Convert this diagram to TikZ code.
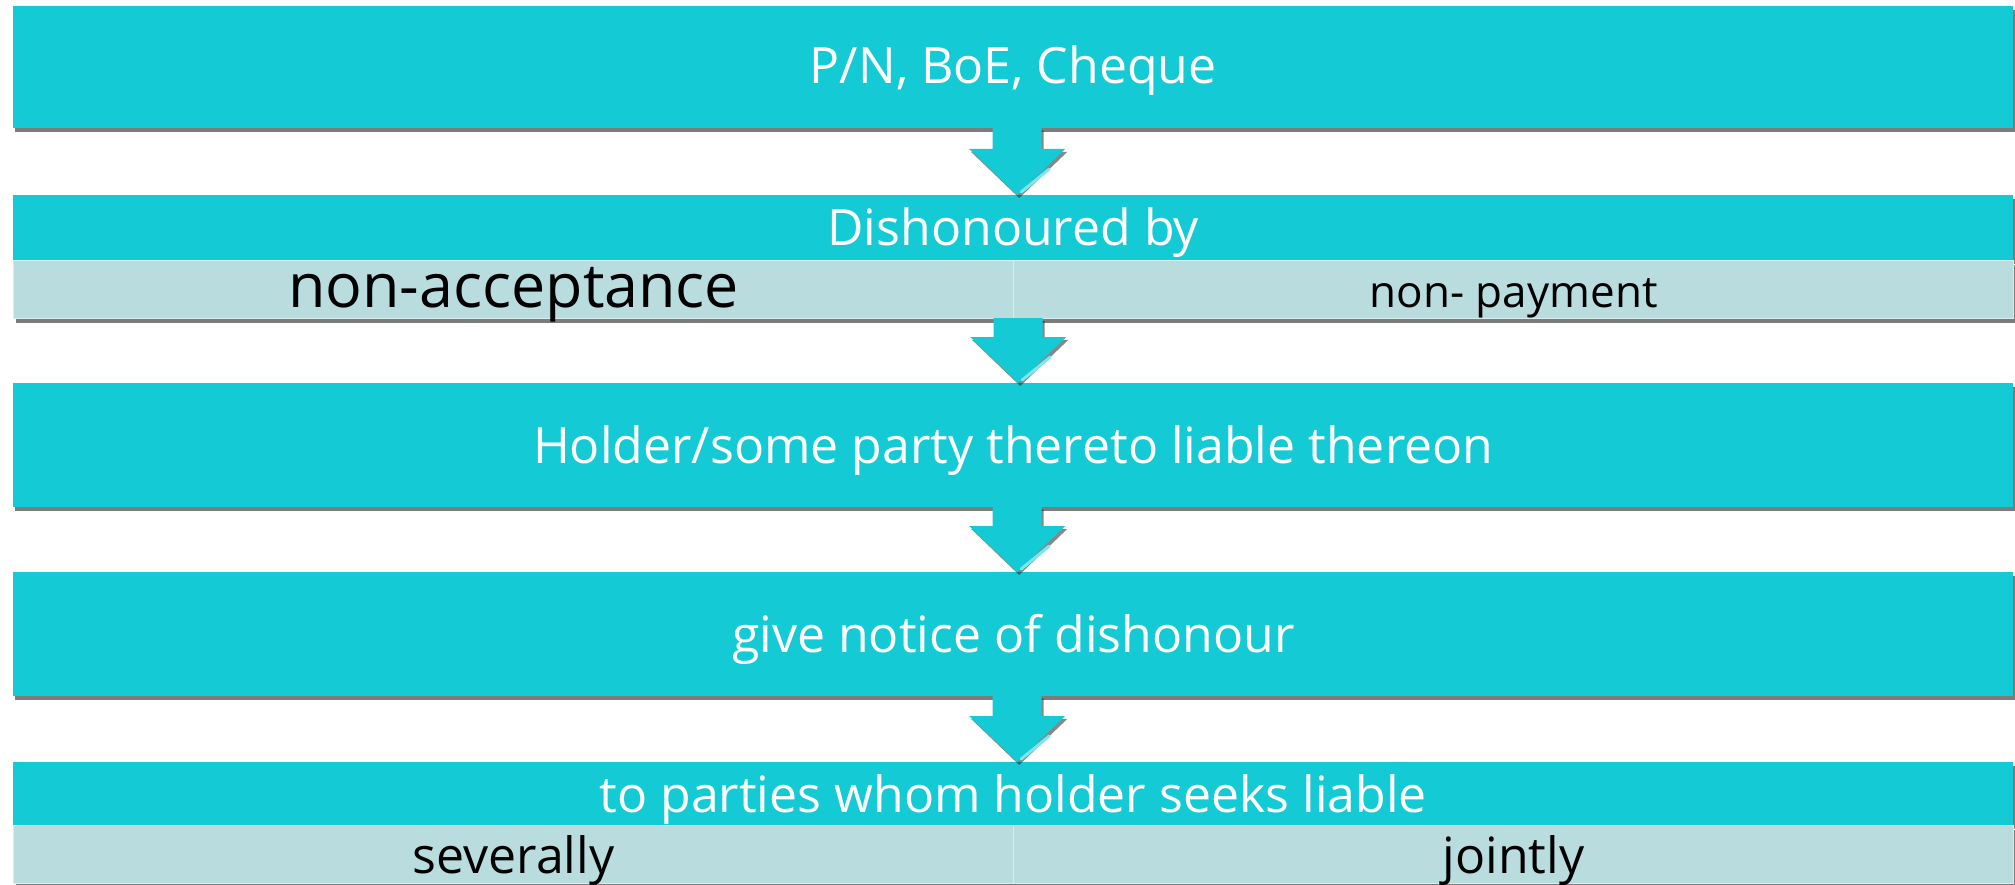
\documentclass[tikz,border=0pt]{standalone}
\usepackage{fontspec}
\setmainfont{Open Sans}
\usetikzlibrary{shadows,calc}
\definecolor{cyanbox}{RGB}{20,202,213}
\definecolor{graybox}{RGB}{185,221,223}
\definecolor{cellline}{RGB}{214,238,240}
\definecolor{bevel}{RGB}{120,232,240}
\begin{document}
\begin{tikzpicture}[x=1pt,y=-1pt,
  boxshadow/.style={drop shadow={shadow xshift=2pt,shadow yshift=-4pt,opacity=0.6,fill=black!85}},
  bar/.style={fill=cyanbox,draw=none,inner sep=0pt,anchor=north west,
    minimum width=2000pt,text=white,font=\fontsize{50}{60}\selectfont,
    text height=36pt,text depth=0pt,boxshadow},
  cell/.style={fill=graybox,draw=cellline,line width=1.2pt,inner sep=0pt,anchor=north west,
    minimum width=1000pt,minimum height=58pt,text=black,boxshadow},
  arrowfill/.style={fill=cyanbox,drop shadow={shadow xshift=2pt,shadow yshift=-3pt,opacity=0.55,fill=black!85}},
]
\useasboundingbox (0,0) rectangle (2015,885);
\fill[white] (0,0) rectangle (2015,885);

% boxes
\node[bar,minimum height=122pt,text height=32pt] (b1) at (13,6) {P/N, BoE, Cheque};

\node[bar,minimum height=65pt,text height=36pt] (b2) at (13,195) {Dishonoured by};
\node[cell,font=\fontsize{61}{72}\selectfont,text height=36pt,text depth=0pt] (b2a) at (13,260) {non-acceptance};
\node[cell,font=\fontsize{44}{52}\selectfont,text height=36pt,text depth=0pt] (b2b) at (1013,260) {non- payment};

\node[bar,minimum height=124pt] (b3) at (13,383) {Holder/some party thereto liable thereon};

\node[bar,minimum height=124pt,text height=36pt] (b4) at (13,572) {give notice of dishonour};

\node[bar,minimum height=63pt,text height=38pt] (b5) at (13,762) {to parties whom holder seeks liable};
\node[cell,font=\fontsize{50}{60}\selectfont,text height=38pt,text depth=0pt] (b5a) at (13,825) {severally};
\node[cell,font=\fontsize{50}{60}\selectfont,text height=38pt,text depth=0pt] (b5b) at (1013,825) {jointly};

% arrows
\newcommand{\flowarrow}[2]{%
  \path[arrowfill] let \p1=(#1), \p2=(#2) in
    (\x1-20.5pt,\y1+1pt) -- (\x1+28.5pt,\y1+1pt) -- (\x1+28.5pt,\y2+46pt) --
    (\x1+52pt,\y2+46pt) -- (\x1+4pt,\y2) -- (\x1-44pt,\y2+46pt) --
    (\x1-20.5pt,\y2+46pt) -- cycle;
  \draw[bevel,line width=3pt,line cap=round] let \p1=(#1), \p2=(#2) in
    (\x1+36pt,\y2+26pt) -- (\x1+8pt,\y2+3pt);
}
\flowarrow{b1.south}{b2.north}
\flowarrow{b2a.south east}{b3.north}
\flowarrow{b3.south}{b4.north}
\flowarrow{b4.south}{b5.north}
\end{tikzpicture}
\end{document}
